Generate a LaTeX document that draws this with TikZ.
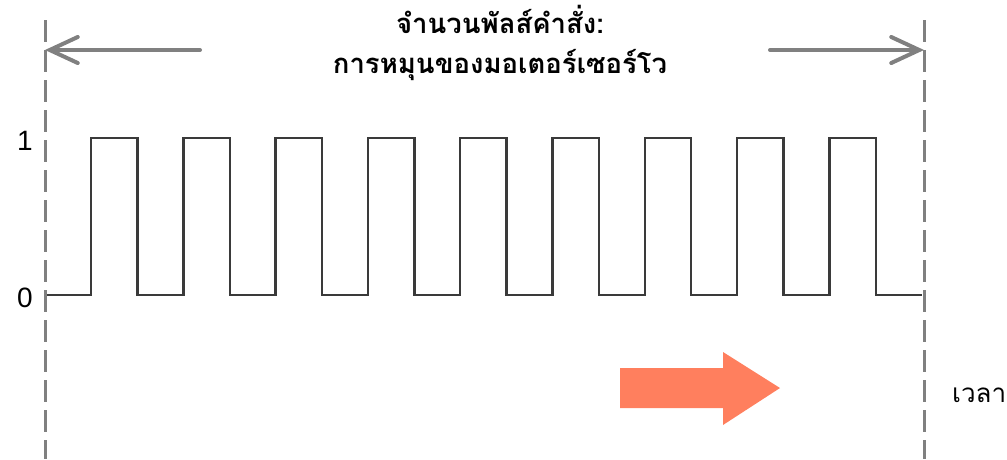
\documentclass[tikz,border=0pt]{standalone}
\usepackage{fontspec}
\setmainfont{Liberation Sans}
\newfontfamily\thaifont[Script=Thai]{Loma}
\usetikzlibrary{arrows.meta}
\definecolor{guide}{HTML}{808080}
\definecolor{pulse}{HTML}{3A3A3A}
\definecolor{orangearrow}{HTML}{FF7F5E}
\tikzset{
  guideline/.style={draw=guide, line width=3pt, dash pattern=on 22pt off 8pt},
  spanarrow/.style={draw=guide, line width=4pt, line cap=round, -{Straight Barb[length=28pt,width=26pt,line cap=round]}},
  pulseline/.style={draw=pulse, line width=2.4pt, line join=miter},
  levellabel/.style={font=\fontsize{28}{30}\selectfont, text=black, inner sep=0pt},
  titletext/.style={font=\thaifont\bfseries\fontsize{27.5}{40}\selectfont, align=center, inner sep=0pt, text=black},
  timelabel/.style={font=\thaifont\fontsize{26}{30}\selectfont, anchor=west, inner sep=0pt, text=black},
}
\begin{document}
\begin{tikzpicture}[x=1pt,y=-1pt]
\useasboundingbox (0,0) rectangle (1007,459);
% guide coordinates
\coordinate (lt) at (45,20);
\coordinate (lb) at (45,459);
\coordinate (rt) at (924,20);
\coordinate (rb) at (924,459);
\coordinate (la) at (45,50);
\coordinate (ls) at (200,50);
\coordinate (ra) at (924,50);
\coordinate (rs) at (770,50);
% dashed guides
\draw[guideline] (lt) -- (lb);
\draw[guideline] (rt) -- (rb);
% span arrows
\draw[spanarrow] (ls) -- (la);
\draw[spanarrow] (rs) -- (ra);
% title
\node[titletext] (title) at (500,43) {จำนวนพัลส์คำสั่ง:\\การหมุนของมอเตอร์เซอร์โว};
% level labels
\node[levellabel] (one) at (25,141) {1};
\node[levellabel] (zero) at (25,298) {0};
% pulse train
\coordinate (p0) at (47,295);
\coordinate (pend) at (922,295);
\draw[pulseline] (p0)
  \foreach \i in {0,...,8} {
    -- ({91+92.3*\i},295) -- ({91+92.3*\i},138) -- ({137.4+92.3*\i},138) -- ({137.4+92.3*\i},295)
  } -- (pend);
% orange direction arrow
\fill[orangearrow] (620,368) -- (723,368) -- (723,352) -- (780,388) -- (723,425) -- (723,408) -- (620,408) -- cycle;
% time label
\node[timelabel] (time) at (952,395) {เวลา};
\end{tikzpicture}
\end{document}
